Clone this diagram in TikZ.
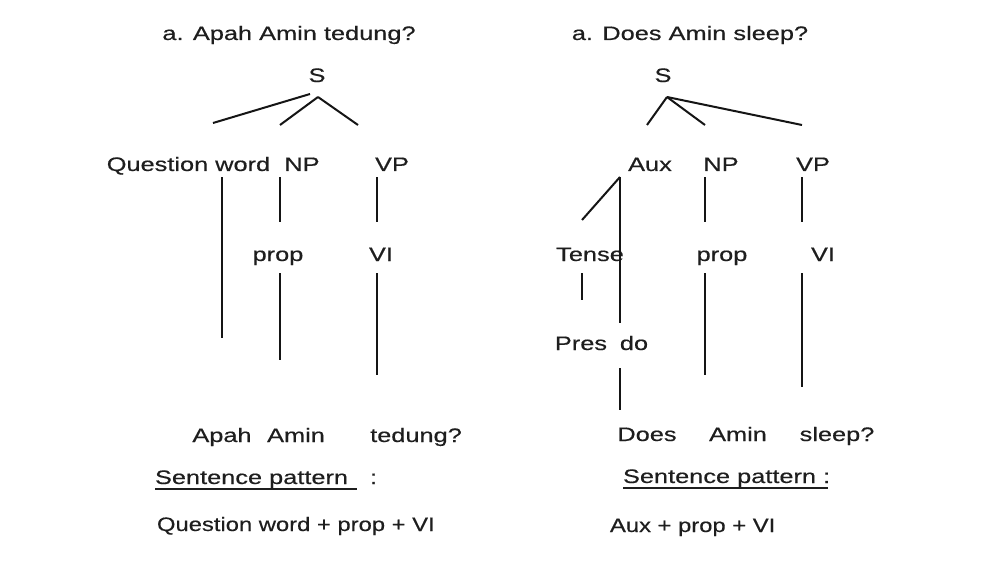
\documentclass[tikz,border=0pt]{standalone}
\usepackage{fontspec}
\setmainfont{Liberation Sans}[FakeStretch=1.3,FakeBold=0.4]
\newfontfamily\patfont{Liberation Sans}[FakeStretch=1.22,FakeBold=0.4]
\definecolor{ink}{HTML}{1E1E1E}
\definecolor{linec}{HTML}{151515}
\begin{document}
\begin{tikzpicture}[x=1pt,y=-1pt,
  lbl/.style={anchor=base,inner sep=0pt,outer sep=0pt,text=ink,font=\fontsize{19.5}{23}\selectfont},
  lblw/.style={lbl,anchor=base west},
  pat/.style={anchor=base west,inner sep=0pt,outer sep=0pt,text=ink,font=\patfont\fontsize{19.5}{23}\selectfont},
  edge/.style={draw=linec,line width=2pt},
  uline/.style={draw=ink,line width=1.1pt}]
\fill[white] (0,0) rectangle (1001,575);
\useasboundingbox (0,0) rectangle (1001,575);

% ---------- left tree ----------
\node[lbl] (tL) at (289,40) {a. Apah Amin tedung?};
\node[lbl] (SL) at (317,82) {S};
\node[lbl] (QW) at (188.5,171) {Question word};
\node[lbl] (NPL) at (302,171) {NP};
\node[lbl] (VPL) at (392,171) {VP};
\node[lbl] (propL) at (278,261) {prop};
\node[lbl] (VIL) at (381,261) {VI};
\node[lbl] (apah) at (222,442) {Apah};
\node[lbl] (aminL) at (296,442) {Amin};
\node[lbl] (tedung) at (416,442) {tedung?};

\coordinate (sLa) at (310,94);
\coordinate (sLb) at (318,97);
\coordinate (qwTop) at (213,123);
\coordinate (npTop) at (280,125);
\coordinate (vpTop) at (358,125);
\draw[edge] (sLa) -- (qwTop);
\draw[edge] (sLb) -- (npTop);
\draw[edge] (sLb) -- (vpTop);

\coordinate (qwA) at (222,177); \coordinate (qwB) at (222,338);
\coordinate (npA) at (280,177); \coordinate (npB) at (280,222);
\coordinate (vpA) at (377,177); \coordinate (vpB) at (377,222);
\coordinate (prA) at (280,273); \coordinate (prB) at (280,360);
\coordinate (viA) at (377,273); \coordinate (viB) at (377,375);
\draw[edge] (qwA) -- (qwB);
\draw[edge] (npA) -- (npB);
\draw[edge] (vpA) -- (vpB);
\draw[edge] (prA) -- (prB);
\draw[edge] (viA) -- (viB);

\node[lblw] (spL) at (155,484) {Sentence pattern};
\coordinate (ulLa) at (155,489); \coordinate (ulLb) at (357,489);
\draw[uline] (ulLa) -- (ulLb);
\node[lblw] (colL) at (370,484) {:};
\node[pat] (patL) at (157,531) {Question word + prop + VI};

% ---------- right tree ----------
\node[lbl] (tR) at (690,40) {a. Does Amin sleep?};
\node[lbl] (SR) at (663,82) {S};
\node[lbl] (Aux) at (650,171) {Aux};
\node[lbl] (NPR) at (721,171) {NP};
\node[lbl] (VPR) at (813,171) {VP};
\node[lbl] (Tense) at (590,261) {Tense};
\node[lbl] (propR) at (722,261) {prop};
\node[lbl] (VIR) at (823,261) {VI};
\node[lbl] (Pres) at (581,350) {Pres};
\node[lbl] (do) at (634,350) {do};
\node[lbl] (does) at (647,441) {Does};
\node[lbl] (aminR) at (738,441) {Amin};
\node[lbl] (sleep) at (837,441) {sleep?};

\coordinate (sR) at (667,97);
\coordinate (auxTop) at (647,125);
\coordinate (npRTop) at (705,125);
\coordinate (vpRTop) at (802,125);
\draw[edge] (sR) -- (auxTop);
\draw[edge] (sR) -- (npRTop);
\draw[edge] (sR) -- (vpRTop);

\coordinate (auxA) at (620,177);
\coordinate (tenseTop) at (582,220);
\coordinate (doTop) at (620,323);
\draw[edge] (auxA) -- (tenseTop);
\draw[edge] (auxA) -- (doTop);
\coordinate (npRA) at (705,177); \coordinate (npRB) at (705,222);
\coordinate (vpRA) at (802,177); \coordinate (vpRB) at (802,222);
\draw[edge] (npRA) -- (npRB);
\draw[edge] (vpRA) -- (vpRB);
\coordinate (tnA) at (582,273); \coordinate (tnB) at (582,300);
\draw[edge] (tnA) -- (tnB);
\coordinate (doA) at (620,368); \coordinate (doB) at (620,410);
\draw[edge] (doA) -- (doB);
\coordinate (prRA) at (705,273); \coordinate (prRB) at (705,375);
\draw[edge] (prRA) -- (prRB);
\coordinate (viRA) at (802,273); \coordinate (viRB) at (802,387);
\draw[edge] (viRA) -- (viRB);

\node[lblw] (spR) at (623,483) {Sentence pattern :};
\coordinate (ulRa) at (623,488); \coordinate (ulRb) at (828,488);
\draw[uline] (ulRa) -- (ulRb);
\node[pat] (patR) at (610,532) {Aux + prop + VI};
\end{tikzpicture}
\end{document}
